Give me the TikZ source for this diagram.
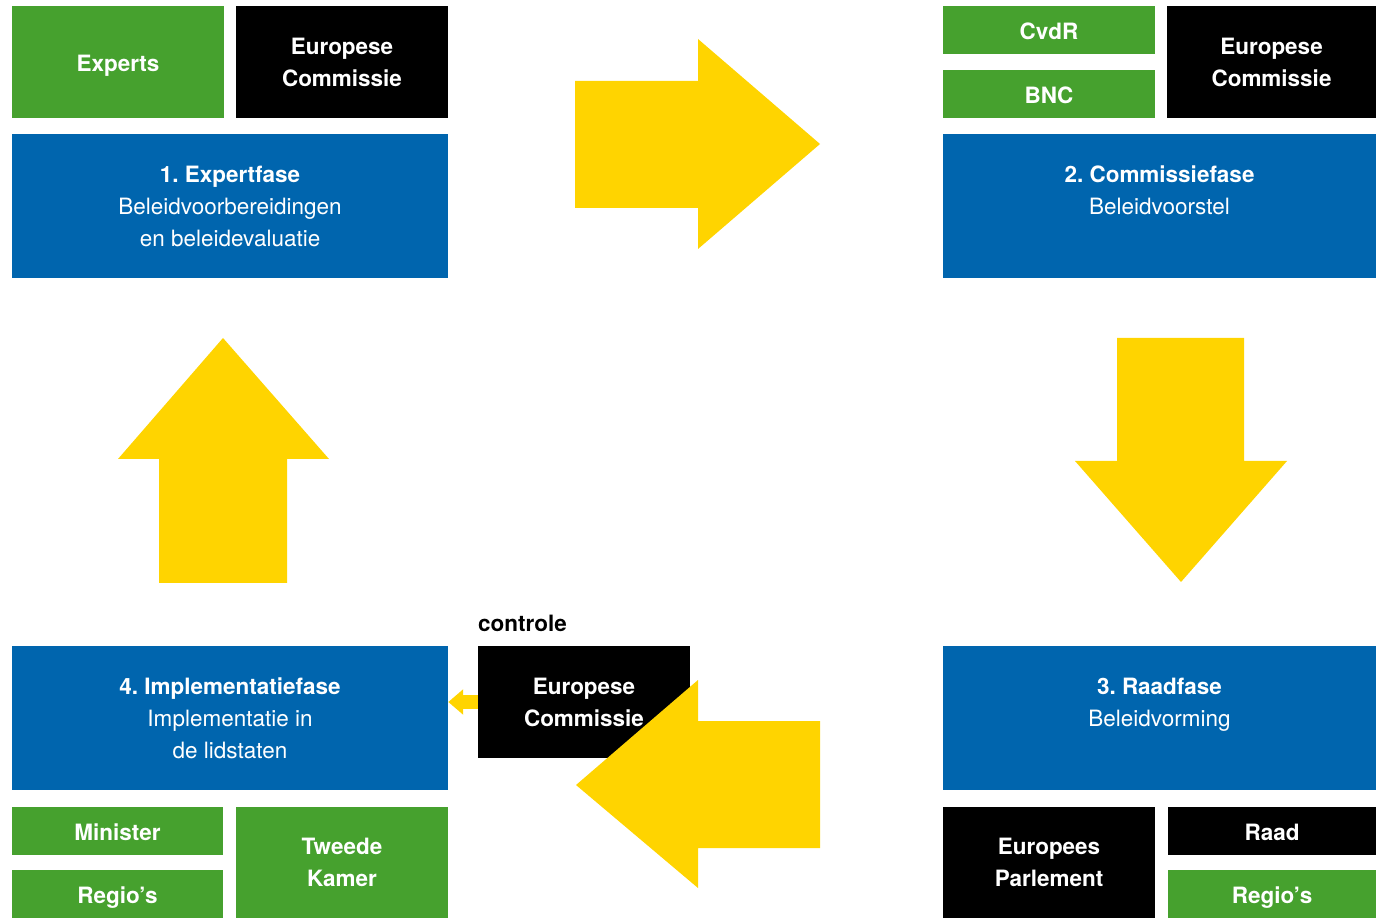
\documentclass[tikz,border=0pt]{standalone}
\usepackage{fontspec}
\setmainfont{TeX Gyre Heros}
\usepackage{tikz}
\usetikzlibrary{arrows.meta}
\definecolor{groen}{RGB}{70,161,46}
\definecolor{blauw}{RGB}{0,101,174}
\definecolor{geel}{RGB}{255,212,0}
\frenchspacing
\tikzset{
	vak/.style={inner sep=0pt, align=center, text=white, font=\fontsize{12.8}{18.2}\selectfont\bfseries},
	groenvak/.style={vak, fill=groen},
	zwartvak/.style={vak, fill=black},
	fasevak/.style={vak, fill=blauw, font=\fontsize{12.8}{18.2}\selectfont, minimum width=8.72cm, minimum height=2.88cm},
	groot/.style={minimum width=4.24cm, minimum height=2.24cm},
	smal/.style={minimum width=4.24cm, minimum height=0.96cm},
	eenregel/.style={text height=10.5pt, text depth=0pt},
	pijl/.style={fill=geel}
}

\begin{document}
\begin{tikzpicture}[x=0.02cm, y=-0.02cm]
			\useasboundingbox (0,0) rectangle (1376,918);
			\node[groenvak, groot, eenregel] (experts) at (118,62) {Experts};
			\node[zwartvak, groot] (ecA) at (342,62) {Europese\\Commissie};
			\node[fasevak] (fase1) at (230,206) {\textbf{1. Expertfase}\\Beleidvoorbereidingen\\en beleidevaluatie};
			\node[groenvak, smal, eenregel] (cvdr) at (1049,30) {CvdR};
			\node[groenvak, smal, eenregel] (bnc) at (1049,94) {BNC};
			\node[zwartvak, groot, minimum width=4.18cm] (ecB) at (1271.5,62) {Europese\\Commissie};
			\node[fasevak, minimum width=8.66cm] (fase2) at (1159.5,206) {\textbf{2. Commissiefase}\\Beleidvoorstel\\\mbox{}};
			\node[fasevak, minimum width=8.66cm] (fase3) at (1159.5,718) {\textbf{3. Raadfase}\\Beleidvorming\\\mbox{}};
			\node[zwartvak, groot, minimum height=2.22cm] (ep) at (1049,862.5) {Europees\\Parlement};
			\node[zwartvak, smal, eenregel, minimum width=4.16cm] (raad) at (1272,831) {Raad};
			\node[groenvak, smal, eenregel, minimum width=4.16cm] (regioB) at (1272,894) {Regio's};
			\node[fasevak] (fase4) at (230,718) {\textbf{4. Implementatiefase}\\Implementatie in\\de lidstaten};
			\node[groenvak, smal, eenregel, minimum width=4.22cm] (minister) at (117.5,831) {Minister};
			\node[groenvak, smal, eenregel, minimum width=4.22cm] (regioA) at (117.5,894) {Regio's};
			\node[groenvak, groot, minimum height=2.22cm] (tk) at (342,862.5) {Tweede\\Kamer};
			\node[zwartvak, groot] (ecC) at (584,702) {Europese\\Commissie};
			\node[font=\fontsize{12.8}{18.2}\selectfont\bfseries, inner sep=0pt] (controle) at (522.5,623) {controle};
			\draw[geel, line width=8.5pt, -{Triangle[width=14pt,length=8.5pt]}] (ecC.west) -- (ecC.west -| fase4.east);
			\fill[pijl] (575,81) -- (698,81) -- (698,39) -- (820,144) -- (698,249) -- (698,208) -- (575,208) -- cycle;
			\fill[pijl] (1117,338) -- (1244,338) -- (1244,461) -- (1287,461) -- (1181,582) -- (1075,461) -- (1117,461) -- cycle;
			\fill[pijl] (820,721) -- (698,721) -- (698,680) -- (576,785) -- (698,888) -- (698,848) -- (820,848) -- cycle;
			\fill[pijl] (159,583) -- (159,459) -- (118,459) -- (223,338) -- (329,459) -- (287,459) -- (287,583) -- cycle;
		\end{tikzpicture}
\end{document}
